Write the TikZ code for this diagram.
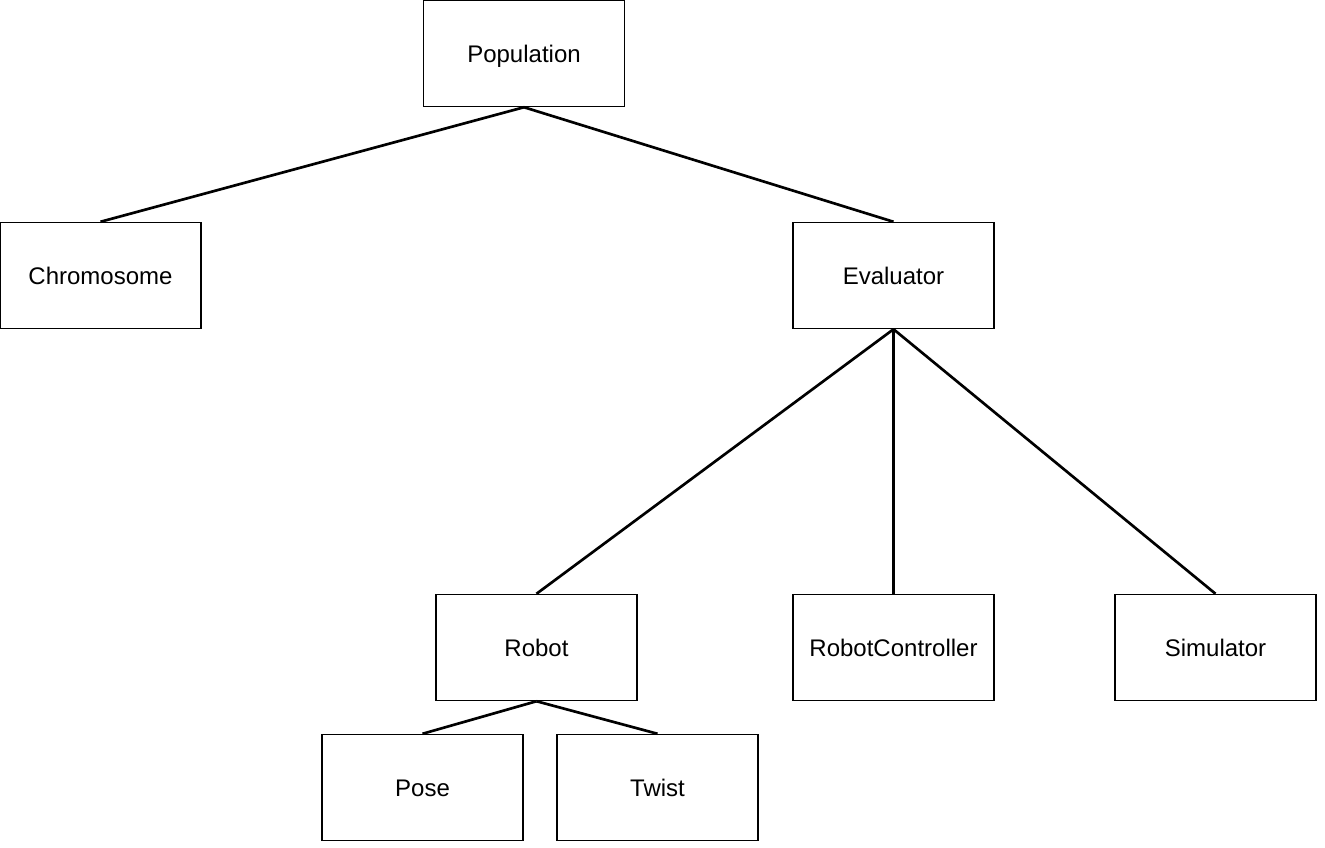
\documentclass[tikz,border=0pt]{standalone}
\usepackage{fontspec}
\setmainfont{Liberation Sans}
\begin{document}
\begin{tikzpicture}[x=0.75pt,y=-0.75pt,
  box/.style={draw,line width=1.1pt,minimum width=150.5pt,minimum height=79.5pt,inner sep=0pt,
    text height=12.9pt,text depth=0pt,font=\fontsize{18}{21}\selectfont},
  link/.style={line width=2pt}]
\useasboundingbox (0,0) rectangle (1325,847);
\node[box] (pop) at (524,53.5) {Population};
\node[box] (chr) at (100.5,275.5) {Chromosome};
\node[box] (eva) at (893.5,275.5) {Evaluator};
\node[box] (rob) at (536.5,647.5) {Robot};
\node[box] (rc) at (893.5,647.5) {RobotController};
\node[box] (sim) at (1215.5,647.5) {Simulator};
\node[box] (pose) at (422.5,787.5) {Pose};
\node[box] (tw) at (657.5,787.5) {Twist};
\draw[link] (pop.south) -- (chr.north);
\draw[link] (pop.south) -- (eva.north);
\draw[link] (eva.south) -- (rob.north);
\draw[link] (eva.south) -- (rc.north);
\draw[link] (eva.south) -- (sim.north);
\draw[link] (rob.south) -- (pose.north);
\draw[link] (rob.south) -- (tw.north);
\end{tikzpicture}
\end{document}
